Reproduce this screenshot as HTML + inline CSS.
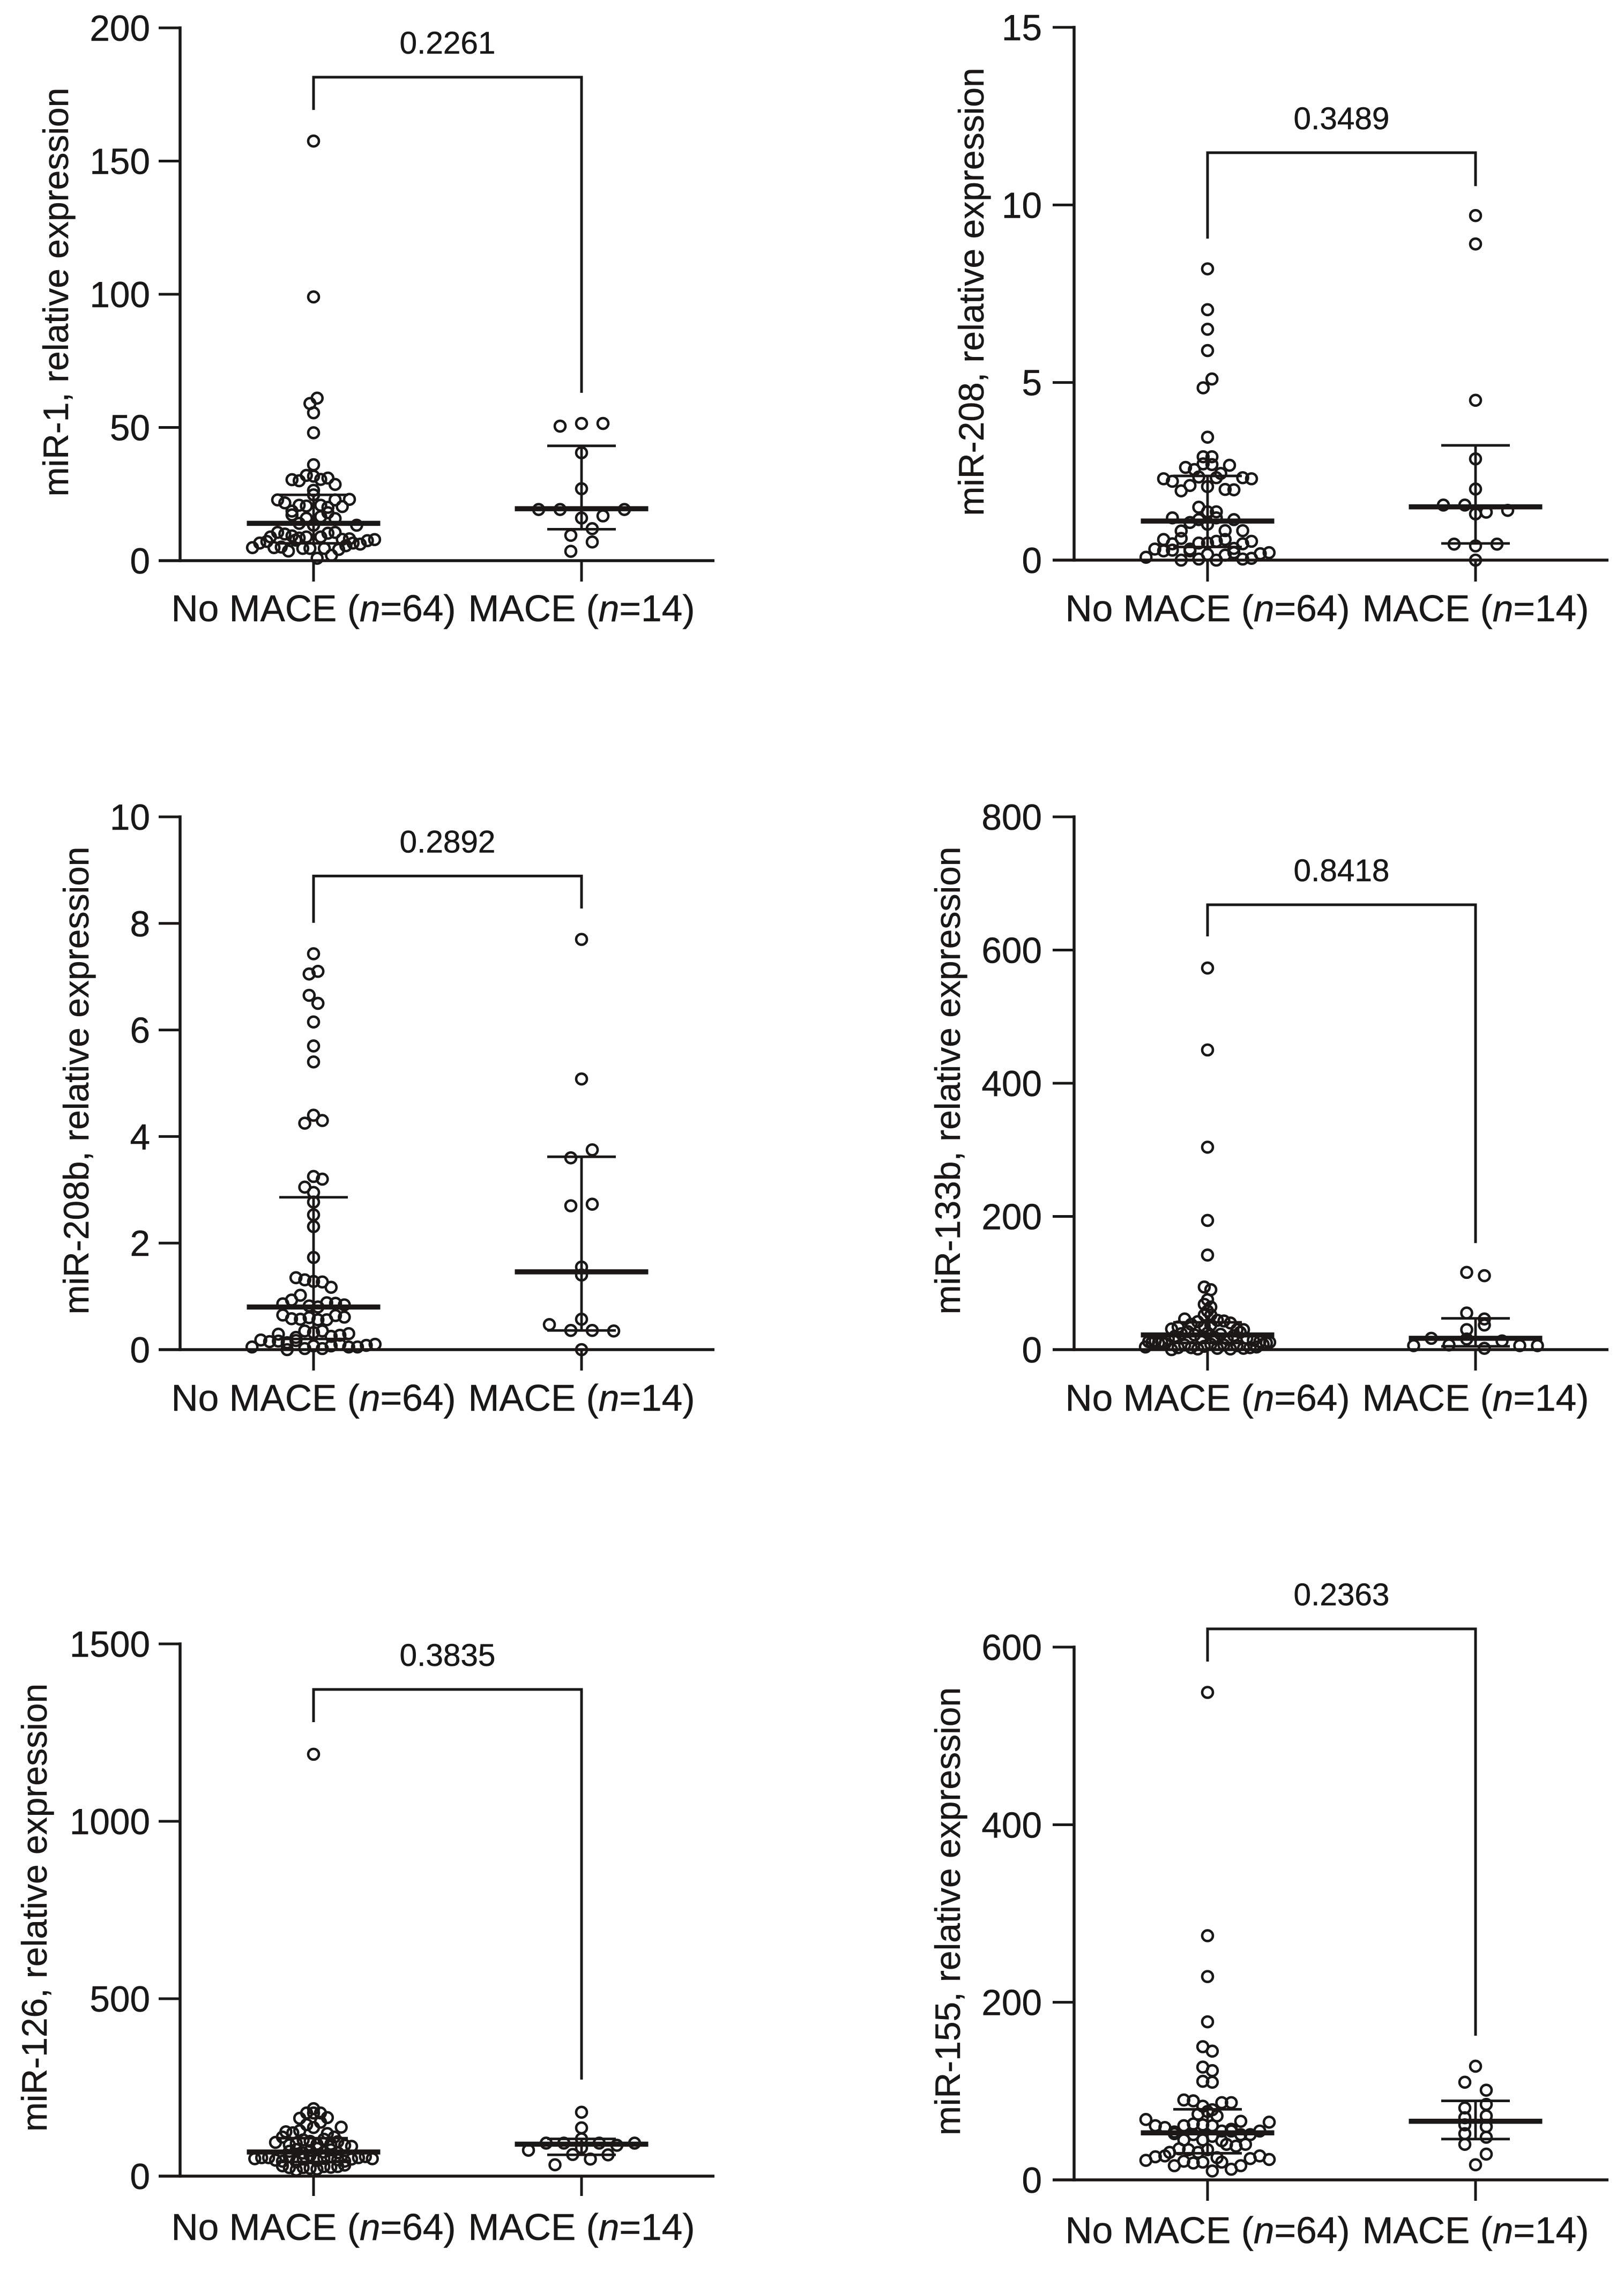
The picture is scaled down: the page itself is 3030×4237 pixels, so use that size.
<!DOCTYPE html>
<html lang="en">
<head>
<meta charset="utf-8">
<title>miRNA relative expression in No MACE and MACE groups</title>
<style>
html,body{margin:0;padding:0;background:#fff}
body{width:3030px;height:4237px;overflow:hidden}
svg{display:block}
text{font-family:"Liberation Sans",Arial,sans-serif;fill:#1a1817;stroke:#1a1817;stroke-width:0.5px}
</style>
</head>
<body>
<svg id="figure" xmlns="http://www.w3.org/2000/svg" width="3030" height="4237" viewBox="0 0 3030 4237"></svg>
<script>
// Shared categories
const groupNames = ['No MACE', 'MACE'];
const groupSizes = [64, 14];

// miR-1
const mir1Ticks = [0, 50, 100, 150, 200];
const mir1NoMace = [157.5, 99, 59, 61, 55.5, 48, 36,
  30.4, 30, 32, 31.7, 30.5, 31, 28.6, 26.4,
  22.8, 21.7, 18.6, 20.8, 20.5, 24.7, 20.8, 20, 22.8, 20.3, 23,
  17.2, 14, 15.9, 13.3, 16.5, 18, 15.8,
  8.9, 10.6, 10, 9.3, 8.5, 8.9, 13.3, 8.9, 10.3, 10.6, 8, 8.2, 13.3,
  4.9, 6.6, 7.2, 4.9, 5.1, 3.6, 7.7, 4.6, 4.6, 0.9, 4.6, 2, 4.2, 5.6, 6.6, 6.2, 7.5, 7.9];
const mir1NoMaceRows = [1, 1, 2, 1, 1, 1, 7, 1, 11, 7, 13, 18];
const mir1Mace = [50.5, 51.5, 51.5, 40.5, 27, 19.2, 19.2, 16, 16.8, 19.2, 9.5, 12, 3.5, 7];
const mir1MaceRows = [3, 1, 1, 5, 2, 2];
const mir1Median = [14, 19.5];
const mir1Upper = [24.7, 43.1];
const mir1Lower = [6.5, 11.8];

// miR-208
const mir208Ticks = [0, 5, 10, 15];
const mir208NoMace = [8.2, 7.05, 6.5, 5.9, 4.85, 5.1, 3.46, 2.91, 2.91,
  2.61, 2.55, 2.71, 2.69, 2.44, 2.67,
  2.29, 2.22, 1.95, 2.1, 2.34, 2.07, 2.32, 1.99, 1.98, 2.32, 2.29,
  1.49, 1.36, 1.36,
  1.19, 0.82, 1.06, 1.14, 1.01, 1.19, 0.83, 1.14, 0.83,
  0.58, 0.46, 0.61, 0.31, 0.48, 0.48, 0.53, 0.58, 0.33, 0.46, 0.53,
  0.08, 0.31, 0.26, 0.28, 0, 0.26, 0.03, 0.16, 0, 0.14, 0.21, 0.03, 0.05, 0.18, 0.21];
const mir208NoMaceRows = [1, 1, 1, 1, 2, 1, 2, 6, 11, 3, 9, 11, 15];
const mir208Mace = [9.7, 8.9, 4.5, 2.85, 2.0, 1.55, 1.55, 1.35, 1.4, 1.3, 0.45, 0.4, 0.45, 0];
const mir208MaceRows = [1, 1, 1, 1, 1, 4, 1, 3, 1];
const mir208Median = [1.1, 1.5];
const mir208Upper = [2.37, 3.23];
const mir208Lower = [0.37, 0.47];

// miR-208b
const mir208bTicks = [0, 2, 4, 6, 8, 10];
const mir208bNoMace = [7.43, 7.05, 7.1, 6.65, 6.5, 6.15, 5.7, 5.4, 4.25, 4.4, 4.3, 3.05, 3.25, 3.2, 2.95,
  2.77, 2.53, 2.31, 1.73,
  1.35, 1.31, 1.28, 1.27, 1.17,
  0.86, 0.93, 1.02, 0.82, 0.8, 0.88, 0.87, 0.84,
  0.65, 0.58, 0.57, 0.6, 0.56, 0.56, 0.64, 0.61,
  0.29, 0.13, 0.23, 0.35, 0.32, 0.35, 0.25, 0.27, 0.3,
  0.05, 0.18, 0.15, 0.16, 0, 0.17, 0.02, 0.07, 0.02, 0.07, 0.1, 0.05, 0.05, 0.08, 0.1];
const mir208bNoMaceRows = [1, 2, 2, 1, 1, 1, 3, 3, 1, 1, 1, 1, 1, 5, 8, 8, 9, 15];
const mir208bMace = [7.7, 5.08, 3.6, 3.75, 2.7, 2.73, 1.55, 1.4, 0.57, 0.47, 0.36, 0.36, 0.35, 0];
const mir208bMaceRows = [1, 1, 2, 2, 1, 1, 1, 4, 1];
const mir208bMedian = [0.8, 1.46];
const mir208bUpper = [2.86, 3.62];
const mir208bLower = [0.2, 0.36];

// miR-133b
const mir133bTicks = [0, 200, 400, 600, 800];
const mir133bNoMace = [573, 450, 304, 194, 142, 94, 90, 75, 68, 64, 58, 52, 52,
  31, 34, 46, 38, 42, 35, 37, 44, 43, 40, 30, 30,
  12, 13, 11, 16, 20, 24, 27, 22, 18, 25, 19, 23, 16, 21, 26, 17, 14, 12, 10,
  4, 11, 10, 9, 0, 3, 7, 3, 1, 5, 8, 2, 7, 1, 6, 2, 3, 4, 8, 11];
const mir133bNoMaceRows = [1, 1, 1, 1, 1, 2, 1, 2, 1, 2, 12, 19, 20];
const mir133bMace = [116, 111, 55, 46, 30, 37, 6, 17, 7, 16, 2, 13, 6, 6];
const mir133bMaceRows = [2, 2, 2, 8];
const mir133bMedian = [22, 17];
const mir133bUpper = [41, 47];
const mir133bLower = [10, 5];

// miR-126
const mir126Ticks = [0, 500, 1000, 1500];
const mir126NoMace = [1189, 190, 163, 178, 178, 178, 165,
  125, 122, 128, 145, 137, 152, 120, 110, 138,
  95, 110, 88, 92, 102, 98, 90, 104, 90, 97, 87, 84,
  70, 75, 65, 72, 78, 68, 74, 66,
  49, 52, 52, 45, 42, 55, 40, 48, 58, 44, 50, 54, 46, 42, 48, 52, 55, 49,
  29, 24, 17, 24, 22, 20, 27, 25, 27, 31];
const mir126NoMaceRows = [1, 1, 5, 9, 12, 8, 18, 10];
const mir126Mace = [180, 136, 105, 73, 93, 93, 80, 93, 87, 93, 32, 61, 48, 60];
const mir126MaceRows = [1, 1, 1, 7, 4];
const mir126Median = [68, 90];
const mir126Upper = [107, 105];
const mir126Lower = [40, 60];

// miR-155
const mir155Ticks = [0, 200, 400, 600];
const mir155NoMace = [549, 275, 229, 178, 150, 145, 127, 123, 111, 110,
  90, 89, 83, 79, 87, 87,
  74, 77, 72,
  68, 61, 59, 52, 61, 63, 62, 61, 55, 57, 66, 51, 55, 65,
  54, 45, 51, 45, 49, 44, 55, 51,
  31, 35, 34, 31, 34, 25, 40, 38, 40,
  22, 26, 27, 16, 21, 19, 20, 10, 20, 12, 16, 24, 27, 23];
const mir155NoMaceRows = [1, 1, 1, 1, 2, 2, 2, 6, 3, 14, 8, 9, 14];
const mir155Mace = [128, 110, 101, 81, 85, 70, 72, 62, 60, 52, 48, 40, 29, 17];
const mir155MaceRows = [1, 2, 2, 2, 2, 2, 2, 1];
const mir155Median = [53, 66];
const mir155Upper = [79.5, 89];
const mir155Lower = [30, 46];

// Printed p values and bracket levels, in axis units: [bar, left leg end, right leg end]
const pValues = ['0.2261', '0.3489', '0.2892', '0.8418', '0.3835', '0.2363'];
const mir1Bracket = [181.5, 169.2, 63];
const mir208Bracket = [11.47, 9.05, 10.53];
const mir208bBracket = [8.89, 8.01, 8.28];
const mir133bBracket = [668, 620.5, 160];
const mir126Bracket = [1371.6, 1279.5, 272];
const mir155Bracket = [620.5, 583.7, 162.4];

const panels = [
  {id:'mir-1', title:'miR-1, relative expression', ticks:mir1Ticks, a:mir1NoMace, aRows:mir1NoMaceRows, b:mir1Mace, bRows:mir1MaceRows, med:mir1Median, up:mir1Upper, lo:mir1Lower, br:mir1Bracket, p:pValues[0],
   ax:336, y0:1046, yTop:52, tickEnd:1085, labelY:1159, titleX:127, titleY:545, labelGap:56, slotA:13.4, slotB:40},
  {id:'mir-208', title:'miR-208, relative expression', ticks:mir208Ticks, a:mir208NoMace, aRows:mir208NoMaceRows, b:mir208Mace, bRows:mir208MaceRows, med:mir208Median, up:mir208Upper, lo:mir208Lower, br:mir208Bracket, p:pValues[1],
   ax:2004, y0:1045, yTop:51, tickEnd:1085, labelY:1159, titleX:1835, titleY:544.5, labelGap:60, slotA:16.4, slotB:40},
  {id:'mir-208b', title:'miR-208b, relative expression', ticks:mir208bTicks, a:mir208bNoMace, aRows:mir208bNoMaceRows, b:mir208bMace, bRows:mir208bMaceRows, med:mir208bMedian, up:mir208bUpper, lo:mir208bLower, br:mir208bBracket, p:pValues[2],
   ax:336, y0:2518, yTop:1524, tickEnd:2557, labelY:2632, titleX:165, titleY:2016, labelGap:56, slotA:16.4, slotB:40},
  {id:'mir-133b', title:'miR-133b, relative expression', ticks:mir133bTicks, a:mir133bNoMace, aRows:mir133bNoMaceRows, b:mir133bMace, bRows:mir133bMaceRows, med:mir133bMedian, up:mir133bUpper, lo:mir133bLower, br:mir133bBracket, p:pValues[3],
   ax:2004, y0:2518, yTop:1524, tickEnd:2557, labelY:2632, titleX:1791, titleY:2016, labelGap:60, slotA:12.2, slotB:33},
  {id:'mir-126', title:'miR-126, relative expression', ticks:mir126Ticks, a:mir126NoMace, aRows:mir126NoMaceRows, b:mir126Mace, bRows:mir126MaceRows, med:mir126Median, up:mir126Upper, lo:mir126Lower, br:mir126Bracket, p:pValues[4],
   ax:336, y0:4060, yTop:3067, tickEnd:4097, labelY:4179, titleX:87, titleY:3559, labelGap:56, slotA:12.9, slotB:33},
  {id:'mir-155', title:'miR-155, relative expression', ticks:mir155Ticks, a:mir155NoMace, aRows:mir155NoMaceRows, b:mir155Mace, bRows:mir155MaceRows, med:mir155Median, up:mir155Upper, lo:mir155Lower, br:mir155Bracket, p:pValues[5],
   ax:2004, y0:4067, yTop:3073, tickEnd:4106, labelY:4185, titleX:1791, titleY:3566, labelGap:60, slotA:17.7, slotB:40}
];

const NS = 'http://www.w3.org/2000/svg';
const INK = '#1a1817';
const svg = document.getElementById('figure');

function make(parent, tag, attrs, txt) {
  const el = document.createElementNS(NS, tag);
  for (const k in attrs) el.setAttribute(k, attrs[k]);
  if (txt !== undefined) el.textContent = txt;
  parent.appendChild(el);
  return el;
}
function line(parent, x1, y1, x2, y2, w) {
  return make(parent, 'line', {x1:x1, y1:y1, x2:x2, y2:y2, stroke:INK, 'stroke-width':w});
}

panels.forEach(function (p) {
  const axisMax = p.ticks[p.ticks.length - 1];
  const yScale = function (v) { return p.y0 - (v / axisMax) * (p.y0 - p.yTop); };
  const xScale = function (g) { return p.ax + 249 + g * 500; };

  const g = make(svg, 'g', {});
  
  

  const yAxis = line(g, p.ax, yScale(axisMax) - 2.75, p.ax, p.y0 + 2.75, 5.5);
  
  

  const xAxis = line(g, p.ax - 40, p.y0, p.ax + 997, p.y0, 5.5);
  
  

  p.ticks.forEach(function (t) {
    const tick = line(g, p.ax - 40, yScale(t), p.ax, yScale(t), 5);
    
    
    const lab = make(g, 'text', {x:p.ax - p.labelGap, y:yScale(t) + 24, 'text-anchor':'end', 'font-size':67.5}, String(t));
    
    
  });

  const title = make(g, 'text', {x:p.titleX, y:p.titleY, 'text-anchor':'middle', 'font-size':66, transform:'rotate(-90 ' + p.titleX + ' ' + p.titleY + ')'}, p.title);
  
  

  groupNames.forEach(function (name, gi) {
    const cx = xScale(gi);
    const xt = line(g, cx, p.y0, cx, p.tickEnd, 5);
    
    

    const xl = make(g, 'text', {x:cx, y:p.labelY, 'text-anchor':'middle', 'font-size':69.5});
    
    
    make(xl, 'tspan', {}, name + ' (');
    make(xl, 'tspan', {'font-style':'italic'}, 'n');
    make(xl, 'tspan', {}, '=' + groupSizes[gi] + ')');

    // Swarm: each row is centred on the group, points left to right in array order
    const vals = gi === 0 ? p.a : p.b;
    const rows = gi === 0 ? p.aRows : p.bRows;
    const slot = gi === 0 ? p.slotA : p.slotB;
    let idx = 0;
    rows.forEach(function (count) {
      for (let i = 0; i < count; i++) {
        const pt = make(g, 'circle', {cx:cx + (i - (count - 1) / 2) * slot, cy:yScale(vals[idx]), r:10, fill:'none', stroke:INK, 'stroke-width':4.6});
        
        
        idx++;
      }
    });

    const stem = line(g, cx, yScale(p.up[gi]), cx, yScale(p.lo[gi]), 4.8);
    
    

    const capU = line(g, cx - 64, yScale(p.up[gi]), cx + 64, yScale(p.up[gi]), 4.8);
    
    

    const capL = line(g, cx - 64, yScale(p.lo[gi]), cx + 64, yScale(p.lo[gi]), 4.8);
    
    

    const med = line(g, cx - 124.5, yScale(p.med[gi]), cx + 124.5, yScale(p.med[gi]), 9.5);
    
    
  });

  const bx1 = xScale(0), bx2 = xScale(1), by = yScale(p.br[0]);
  const bracket = make(g, 'path', {d:'M' + bx1 + ' ' + yScale(p.br[1]) + 'V' + by + 'H' + bx2 + 'V' + yScale(p.br[2]), fill:'none', stroke:INK, 'stroke-width':5});
  
  

  const pText = make(g, 'text', {x:(bx1 + bx2) / 2, y:by - 44, 'text-anchor':'middle', 'font-size':58.5}, p.p);
  
  
});
</script>
</body>
</html>
